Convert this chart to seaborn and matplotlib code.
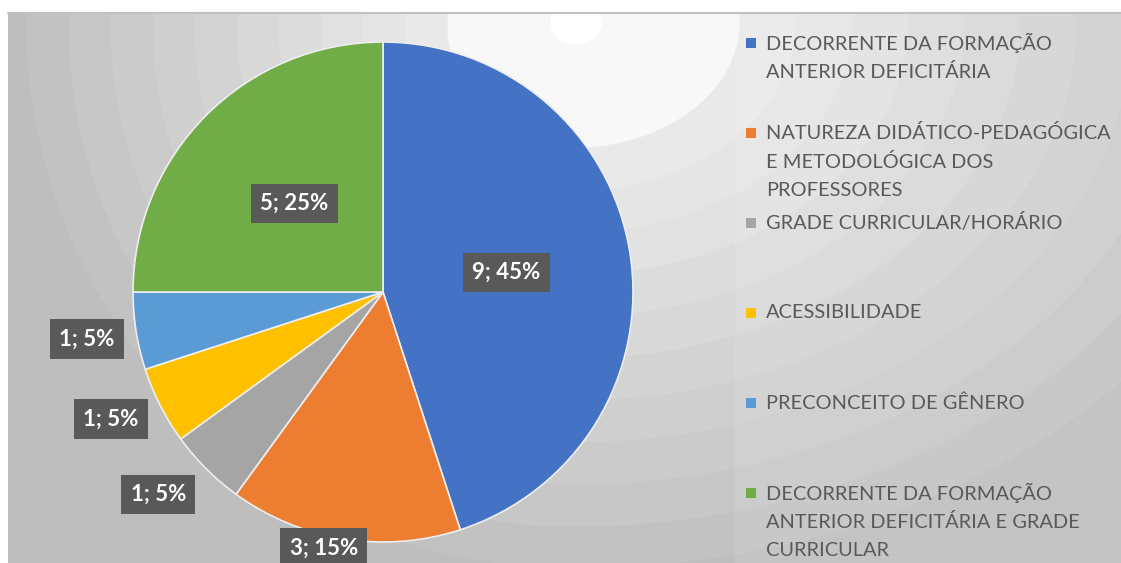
import numpy as np
import matplotlib.pyplot as plt
import seaborn as sns
from matplotlib.patches import Rectangle

categorias = [
    "DECORRENTE DA FORMAÇÃO\nANTERIOR DEFICITÁRIA",
    "NATUREZA DIDÁTICO-PEDAGÓGICA\nE METODOLÓGICA DOS\nPROFESSORES",
    "GRADE CURRICULAR/HORÁRIO",
    "ACESSIBILIDADE",
    "PRECONCEITO DE GÊNERO",
    "DECORRENTE DA FORMAÇÃO\nANTERIOR DEFICITÁRIA E GRADE\nCURRICULAR",
]
valores = [9, 3, 1, 1, 1, 5]
cores = ["#4472C4", "#ED7D31", "#A5A5A5", "#FFC000", "#5B9BD5", "#70AD47"]

# posicao dos rotulos (raio relativo e ajuste de angulo)
raio_rotulo = [0.5, 1.05, 1.21, 1.2, 1.2, 0.5]
ajuste_ang = [0, -4, -3, -2, 0, 0]

sns.set_theme(style="white")
plt.rcParams["font.family"] = ["Lato", "DejaVu Sans"]

W, H = 1121, 563
fig = plt.figure(figsize=(W / 100, H / 100), dpi=100)

# fundo com gradiente radial em aneis
bg = fig.add_axes([0, 0, 1, 1])
yy, xx = np.mgrid[0:H, 0:W]
dx = xx - 572.0
dx = np.where(dx > 0, dx * 0.75, dx)
d = np.sqrt(dx ** 2 + (yy - 22.0) ** 2)
k = np.floor(d / 42)
v = np.clip(0.965 - k * 0.017, 0.74, 1)
v = np.where(d < 125, 0.972, v)
v = np.where(d < 22, 1.0, v)
v = np.where((xx < 8) | (yy < 13), 1.0, v)
bg.imshow(v, cmap="gray", vmin=0, vmax=1, extent=[0, W, H, 0], interpolation="bilinear")
bg.add_patch(Rectangle((735, 13), W - 735, H - 13, color="white", alpha=0.1, lw=0))
bg.plot([8, W], [12.5, 12.5], color="#c0c0c0", lw=1.5)
bg.set_xlim(0, W)
bg.set_ylim(H, 0)
bg.axis("off")

# pizza
ax = fig.add_axes([133 / W, (H - 542) / H, 500 / W, 500 / H])
wedges, _ = ax.pie(valores, colors=cores, startangle=90, counterclock=False,
                   radius=1, wedgeprops=dict(edgecolor="#eeeeee", linewidth=1.2))
ax.set_xlim(-1, 1)
ax.set_ylim(-1, 1)
ax.axis("off")

total = sum(valores)
for w, val, r, a in zip(wedges, valores, raio_rotulo, ajuste_ang):
    ang = np.deg2rad((w.theta1 + w.theta2) / 2 + a)
    ax.text(r * np.cos(ang), r * np.sin(ang), f"{val}; {round(val / total * 100)}%",
            ha="center", va="center", color="white", fontsize=16, fontweight="bold",
            clip_on=False,
            bbox=dict(boxstyle="square,pad=0.42", fc="#595959", ec="none"))

# legenda
for i, (cat, cor) in enumerate(zip(categorias, cores)):
    y0 = 43 + i * 90
    bg.add_patch(Rectangle((746, y0 - 5), 10, 10, color=cor, lw=0))
    for j, linha in enumerate(cat.split("\n")):
        bg.text(766, y0 + j * 29, linha, ha="left", va="center",
                fontsize=14.4, color="#595959")

fig.savefig("out.png", dpi=100)
